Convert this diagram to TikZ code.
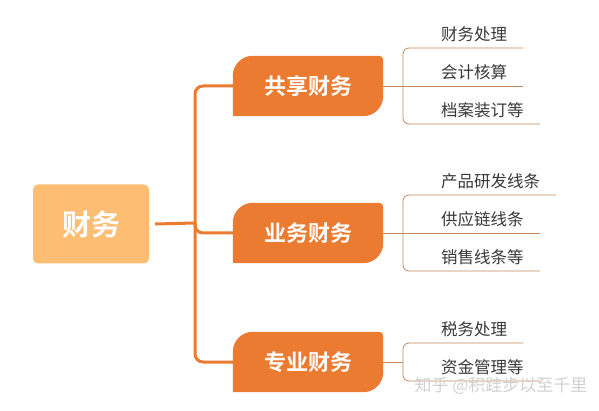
\documentclass[tikz,border=0pt]{standalone}
\usepackage{fontspec}
\setmainfont{Noto Sans CJK SC}
\newfontfamily\boldcjk{Noto Sans CJK SC Bold}
\usetikzlibrary{positioning, backgrounds}

\definecolor{rootfill}{HTML}{FDBE74}
\definecolor{branchfill}{HTML}{EC7B32}
\definecolor{trunkline}{HTML}{EC7B32}
\definecolor{leafline}{HTML}{C4895A}
\definecolor{leaftext}{HTML}{383838}

\newcommand{\branchshape}[1]{%
  \fill[branchfill] (#1.south west) -- ([yshift=-20pt]#1.north west)
    arc[start angle=180, end angle=90, radius=20pt]
    -- ([xshift=-4pt]#1.north east)
    arc[start angle=90, end angle=0, radius=4pt]
    -- ([yshift=20pt]#1.south east)
    arc[start angle=0, end angle=-90, radius=20pt] -- cycle;}

\begin{document}
\begin{tikzpicture}[
  x=1pt, y=1pt,
  root/.style={rectangle, rounded corners=5pt, fill=rootfill, minimum width=116pt,
    minimum height=79pt, text=white, font=\boldcjk\fontsize{29}{29}\selectfont},
  branch/.style={rectangle, minimum width=150pt, minimum height=60pt,
    text=white, font=\boldcjk\fontsize{22}{22}\selectfont},
  leaf/.style={anchor=south west, inner sep=0pt, text depth=7pt, text=leaftext,
    font=\fontsize{16.5}{16.5}\selectfont},
  trunk/.style={draw=trunkline, line width=3pt, rounded corners=8pt},
  twig/.style={draw=leafline, line width=0.8pt, rounded corners=6pt}
]
  \useasboundingbox (0,0) rectangle (599,-411);

  \node[root] (root) at (91,-224) {财务};
  \node[branch] (b1) at (308,-86) {共享财务};
  \node[branch] (b2) at (308,-233) {业务财务};
  \node[branch] (b3) at (308,-362) {专业财务};

  \begin{scope}[on background layer]
    \branchshape{b1}
    \branchshape{b2}
    \branchshape{b3}
  \end{scope}

  % trunk
  \coordinate (t0) at (195,-223);
  \draw[trunk] ([xshift=6pt]root.east) -- (t0);
  \draw[trunk] (b1.west) -| (t0) |- (b3.west);
  \draw[trunk] (t0) |- (b2.west);

  % leaves
  \node[leaf] (l11) at (441,-48) {财务处理};
  \node[leaf] (l12) at (441,-86) {会计核算};
  \node[leaf] (l13) at (441,-124) {档案装订等};
  \node[leaf] (l21) at (441,-195) {产品研发线条};
  \node[leaf] (l22) at (441,-233) {供应链线条};
  \node[leaf] (l23) at (441,-271) {销售线条等};
  \node[leaf] (l31) at (441,-343) {税务处理};
  \node[leaf] (l32) at (441,-381) {资金管理等};

  \coordinate (k1) at (403,-86);
  \coordinate (k2) at (403,-233);
  \coordinate (k3) at (403,-362);

  \draw[twig] ([xshift=16pt]l11.south east) -- (l11.south -| k1) -- (l13.south -| k1)
    -- ([xshift=16pt]l13.south east);
  \draw[twig] (b1.east) -- ([xshift=16pt]l12.south east);

  \draw[twig] ([xshift=16pt]l21.south east) -- (l21.south -| k2) -- (l23.south -| k2)
    -- ([xshift=16pt]l23.south east);
  \draw[twig] (b2.east) -- ([xshift=16pt]l22.south east);

  \draw[twig] ([xshift=16pt]l31.south east) -- (l31.south -| k3) -- (l32.south -| k3)
    -- ([xshift=16pt]l32.south east);
  \draw[twig] (b3.east) -- (k3);

  % watermark
  \node[text=black!18, font=\fontsize{17}{17}\selectfont] (mark) at (501,-386) {知乎 @积跬步以至千里};
\end{tikzpicture}
\end{document}
